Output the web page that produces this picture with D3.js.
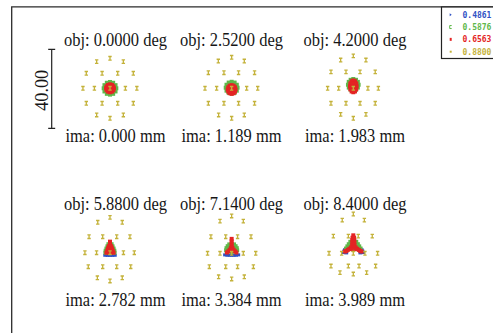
<!DOCTYPE html>
<html>
<head>
<meta charset="utf-8">
<script src="https://cdn.jsdelivr.net/npm/d3@7"></script>
<style>
  html, body { margin: 0; padding: 0; background: #fff; overflow: hidden; }
  svg { display: block; }
</style>
</head>
<body>
<svg id="chart" width="493" height="333"></svg>
<script>
// Spot diagram: six field points, four wavelengths, ray positions in µm (y up)

const wavelengths = ["0.4861", "0.5876", "0.6563", "0.8800"];
const fieldAngles = ["0.0000", "2.5200", "4.2000", "5.8800", "7.1400", "8.4000"];
const imageHeights = ["0.000", "1.189", "1.983", "2.782", "3.384", "3.989"];
const scaleBarMicrons = 40;

// 0.4861 µm rays
const blueSpots = [
  [[0,0],[1.2,0],[-1.2,0],[0,1.2],[0,-1.2]],
  [[0,-0.6],[1.2,-0.6],[-1.2,-0.6],[0,0.6],[0,-1.8]],
  [[0,1],[0.8,1],[-0.8,1],[0,2.2],[0,-0.4]],
  [[-2.4,-1.3],[-1.2,-1.35],[0,-1.35],[1.2,-1.35],[2.4,-1.3]],
  [[-3.3,-1.1],[-2.2,-1.25],[-1.1,-1.3],[0,-1.3],[1.1,-1.3],[2.2,-1.25],[3.3,-1.1]],
  [[-4.6,0.8],[-4.9,0.1],[-4.2,1.5],[-3.6,-0.1],[4.6,0.8],[4.9,0.1],[4.2,1.5],[3.6,-0.1]]
];

// 0.5876 µm rays
const greenSpots = [
  [[3.2,0],[2.8,1.6],[1.6,2.8],[0,3.2],[-1.6,2.8],[-2.8,1.6],[-3.2,0],[-2.8,-1.6],[-1.6,-2.8],[0,-3.2],[1.6,-2.8],[2.8,-1.6],
   [1.6,0],[0.8,1.4],[-0.8,1.4],[-1.6,0],[-0.8,-1.4],[0.8,-1.4],[0,0]],
  [[3,0.3],[2.6,1.8],[1.5,2.9],[0,3.3],[-1.5,2.9],[-2.6,1.8],[-3,0.3],[-2.6,-1.2],[-1.5,-2.3],[0,-2.7],[1.5,-2.3],[2.6,-1.2],
   [1.5,0.3],[0.75,1.6],[-0.75,1.6],[-1.5,0.3],[-0.75,-1],[0.75,-1],[0,0.3]],
  [[2.7,1.8],[2.3,3.25],[1.35,4.3],[0,4.7],[-1.35,4.3],[-2.3,3.25],[-2.7,1.8],[-2.3,0.35],[-1.35,-0.7],[0,-1.1],[1.35,-0.7],[2.3,0.35],
   [1.35,1.8],[0.7,3.05],[-0.7,3.05],[-1.35,1.8],[-0.7,0.55],[0.7,0.55],[0,1.8]],
  [[-0.8,4.3],[0.8,4.3],[-1.3,3.2],[1.3,3.2],[-1.8,2.1],[1.8,2.1],[-2.2,1],[2.2,1],[-2.3,0],[2.3,0],[-1.2,-0.1],[1.2,-0.1],[0,0.5]],
  [[-1.2,4.2],[1.2,4.2],[-2,3.3],[2,3.3],[-2.6,2.3],[2.6,2.3],[-2.8,1.2],[2.8,1.2],[-1.5,2],[1.5,2],[-2,0.6],[2,0.6],[0,0.4]],
  [[-1.5,5.5],[1.5,5.5],[-2.3,4.3],[2.3,4.3],[-3,3.2],[3,3.2],[-3.7,2.1],[3.7,2.1],[-1.8,3.5],[1.8,3.5],[-2.5,2.6],[2.5,2.6],[0,1.5]]
];

// 0.6563 µm rays
const redSpots = [
  [[2,0],[1.7,1],[1,1.7],[0,2],[-1,1.7],[-1.7,1],[-2,0],[-1.7,-1],[-1,-1.7],[0,-2],[1,-1.7],[1.7,-1],
   [1,0],[0.5,0.9],[-0.5,0.9],[-1,0],[-0.5,-0.9],[0.5,-0.9],[0,0]],
  [[2,-0.6],[1.7,0.5],[1,1.3],[0,1.6],[-1,1.3],[-1.7,0.5],[-2,-0.6],[-1.7,-1.7],[-1,-2.5],[0,-2.8],[1,-2.5],[1.7,-1.7],
   [1,-0.6],[0.5,0.4],[-0.5,0.4],[-1,-0.6],[-0.5,-1.6],[0.5,-1.6],[0,-0.6]],
  [[1.7,1],[1.5,2.5],[0.85,3.6],[0,4],[-0.85,3.6],[-1.5,2.5],[-1.7,1],[-1.5,-0.5],[-0.85,-1.6],[0,-2],[0.85,-1.6],[1.5,-0.5],
   [0.85,1],[0.4,2.3],[-0.4,2.3],[-0.85,1],[-0.4,-0.3],[0.4,-0.3],[0,1]],
  [[0,5.6],[0,4.4],[-0.6,3.3],[0.6,3.3],[-1,2.2],[1,2.2],[0,2.2],[-1.4,1.1],[1.4,1.1],[0,1.1],[-1.8,0],[1.8,0],[-0.6,0],[0.6,0]],
  [[0,7],[0,5.8],[0,4.6],[0,3.4],[-0.4,2.4],[0.4,2.4],[-1,1.5],[1,1.5],[-1.7,0.7],[1.7,0.7],[-2.4,0.1],[2.4,0.1],[0,1.2]],
  [[0,8.8],[-0.4,7.6],[0.4,7.6],[-0.5,6.4],[0.5,6.4],[-0.5,5.2],[0.5,5.2],[-0.6,4],[0.6,4],[0,3],[-1.2,2.7],[1.2,2.7],
   [-2,2],[2,2],[-2.8,1.4],[2.8,1.4],[-3.5,0.9],[3.5,0.9],[-4.2,0.6],[4.2,0.6],[-1,1.8],[1,1.8]]
];

// 0.8800 µm rays
const yellowSpots = [
  [[-6.75,13.5],[0,15.2],[6.75,13.5],[-12,7.6],[-4,7.6],[3.9,7.6],[11.8,7.6],[-13.7,0],[-7.9,0],[0,0],[7.8,0],[13.6,0],
   [-12,-7.6],[-4,-7.6],[3.9,-7.6],[11.8,-7.6],[-6.75,-13.5],[0,-15.2],[6.75,-13.5]],
  [[-6.75,13.8],[0,15.7],[6.4,13.8],[-11.8,7.9],[-3.9,7.9],[3.5,7.9],[11.6,7.9],[-13.5,0],[-7.6,0],[0,0],[7.6,0],[13.2,0],
   [-11.8,-7.6],[-3.9,-7.6],[3.5,-7.6],[11.6,-7.6],[-6.6,-13.5],[0,-15.2],[6.4,-13.5]],
  [[-6.4,14.3],[0,16.4],[6.4,14.3],[-11.3,8.3],[-3.7,8.3],[3.4,8.3],[11.1,8.3],[-13,0],[-7.4,0],[0,0],[7.4,0],[12.7,0],
   [-11.3,-7.6],[-3.7,-7.6],[3.4,-7.6],[11.1,-7.6],[-6.4,-13.2],[0,-15.2],[6.4,-13.2]],
  [[-6.2,15.4],[0,17.9],[6.2,15.4],[-10.6,8.1],[-3.7,8.1],[3.4,8.1],[10.1,8.1],[-12.7,0],[-6.8,0],[0,0],[6.8,0],[12.3,0],
   [-11,-7.1],[-3.7,-7.1],[3.4,-7.1],[10.5,-7.1],[-6.4,-12.7],[0,-14.3],[6.2,-12.7]],
  [[-5.9,16],[0,18.6],[5.9,16],[-10.5,8.1],[-3,8.1],[3,8.1],[9.8,8.1],[-12.2,-0.3],[-5.9,-0.3],[0,-0.3],[5.9,-0.3],[12.2,-0.3],
   [-11.3,-7.1],[-3,-7.1],[3,-7.1],[11,-7.1],[-6.6,-12.2],[0,-13.3],[6.4,-12.2]],
  [[-5.6,16.5],[0,19.6],[5.6,16.5],[-10.1,8.4],[-2.5,8.4],[2.5,8.4],[9.6,8.4],[-12.3,-0.3],[-5.9,-0.3],[0,-0.3],[5.9,-0.3],[12.3,-0.3],
   [-11.3,-6.75],[-2.5,-6.75],[2.9,-6.75],[11.3,-6.75],[-6.75,-10.1],[0,-10.8],[6.75,-10.1]]
];

const colors = ["#2f52c4", "#5fb84a", "#e42424", "#c4b23a"];
const textColor = "#161616";
const serif = "'Liberation Serif', 'Times New Roman', serif";

const W = 493, H = 333;
const svg = d3.select("#chart");

svg.append("rect").attr("width", W).attr("height", H).attr("fill", "#fff");

// outer plot frame (runs off the right and bottom edges)
svg.append("path")
  .attr("d", `M11.7,${H + 3}V6.8H${W + 3}`)
  .attr("fill", "none")
  .attr("stroke", "#2b2b2b")
  .attr("stroke-width", 1.3);

// panel layout
const colX = d3.scalePoint().domain([0, 1, 2]).range([110, 353.3]);
const rowY = d3.scalePoint().domain([0, 1]).range([88.3, 252.7]);
const labelX = [115.5, 231.5, 355];
const um = d3.scaleLinear().domain([0, scaleBarMicrons]).range([0, 79]);

const sets = [
  { spots: blueSpots, color: colors[0], w: 4, h: 3 },
  { spots: greenSpots, color: colors[1], w: 4, h: 4 },
  { spots: redSpots, color: colors[2], w: 4, h: 4 }
];

function label(x, y, str, len) {
  svg.append("text")
    .attr("x", x)
    .attr("y", y)
    .attr("text-anchor", "middle")
    .attr("font-family", serif)
    .attr("font-size", 18)
    .attr("textLength", len)
    .attr("lengthAdjust", "spacingAndGlyphs")
    .attr("fill", textColor)
    .text(str);
}

fieldAngles.forEach((ang, i) => {
  const col = i % 3, row = Math.floor(i / 3);
  const cx = colX(col), cy = rowY(row);
  const g = svg.append("g").attr("transform", `translate(${cx},${cy})`);

  sets.forEach(s => {
    g.append("g").selectAll("rect")
      .data(s.spots[i])
      .join("rect")
      .attr("x", d => um(d[0]) - s.w / 2)
      .attr("y", d => -um(d[1]) - s.h / 2)
      .attr("width", s.w)
      .attr("height", s.h)
      .attr("fill", s.color);
  });

  // small "I" shaped markers for the long wavelength
  g.append("g").selectAll("path")
    .data(yellowSpots[i])
    .join("path")
    .attr("transform", d => `translate(${um(d[0])},${-um(d[1])})`)
    .attr("d", "M-1.7,-1.8H1.7M0,-1.8V1.8M-1.7,1.8H1.7")
    .attr("fill", "none")
    .attr("stroke", colors[3])
    .attr("stroke-width", 1.3);

  label(labelX[col], cy - 42.4, `obj: ${ang} deg`, 103);
  label(labelX[col], cy + 53.4, `ima: ${imageHeights[i]} mm`, 100);
});

// scale bar
const barX = 51.7;
const barMid = rowY(0) + 0.5;
const barTop = barMid - um(scaleBarMicrons) / 2;
const barBot = barMid + um(scaleBarMicrons) / 2;
svg.append("path")
  .attr("d", `M${barX},${barTop}V${barBot}M${barX - 3.5},${barTop}H${barX + 3.5}M${barX - 3.5},${barBot}H${barX + 3.5}`)
  .attr("fill", "none")
  .attr("stroke", "#222")
  .attr("stroke-width", 1.2);
svg.append("text")
  .attr("transform", `translate(48.2,${barMid + 1.5}) rotate(-90)`)
  .attr("text-anchor", "middle")
  .attr("font-family", serif)
  .attr("font-size", 18)
  .attr("textLength", 41)
  .attr("lengthAdjust", "spacingAndGlyphs")
  .attr("fill", textColor)
  .text(scaleBarMicrons.toFixed(2));

// wavelength legend
const legY = d3.scalePoint().domain(d3.range(wavelengths.length)).range([14.7, 51.7]);
svg.append("rect")
  .attr("x", 441.5).attr("y", 7)
  .attr("width", 60).attr("height", 51.5)
  .attr("fill", "#fff")
  .attr("stroke", "#222")
  .attr("stroke-width", 1.2);

const legMarks = [
  "M-1,-1.5L1,0L-1,1.5Z",
  "M1,-1.5H-1V1.5H1",
  "M-1,-1.5H1V1.5H-1Z",
  "M-1,-1H1V1H-1Z"
];
const leg = svg.append("g").selectAll("g")
  .data(wavelengths)
  .join("g")
  .attr("transform", (d, k) => `translate(0,${legY(k)})`);
leg.append("path")
  .attr("transform", "translate(450.7,0)")
  .attr("d", (d, k) => legMarks[k])
  .attr("fill", (d, k) => k === 1 ? "none" : colors[k])
  .attr("stroke", (d, k) => k === 1 ? colors[k] : "none")
  .attr("stroke-width", 1);
leg.append("text")
  .attr("x", 462.5)
  .attr("y", 3)
  .attr("font-family", "'DejaVu Sans Mono', monospace")
  .attr("font-size", 8)
  .attr("font-weight", "bold")
  .attr("fill", (d, k) => colors[k])
  .text(d => d);
</script>
</body>
</html>
